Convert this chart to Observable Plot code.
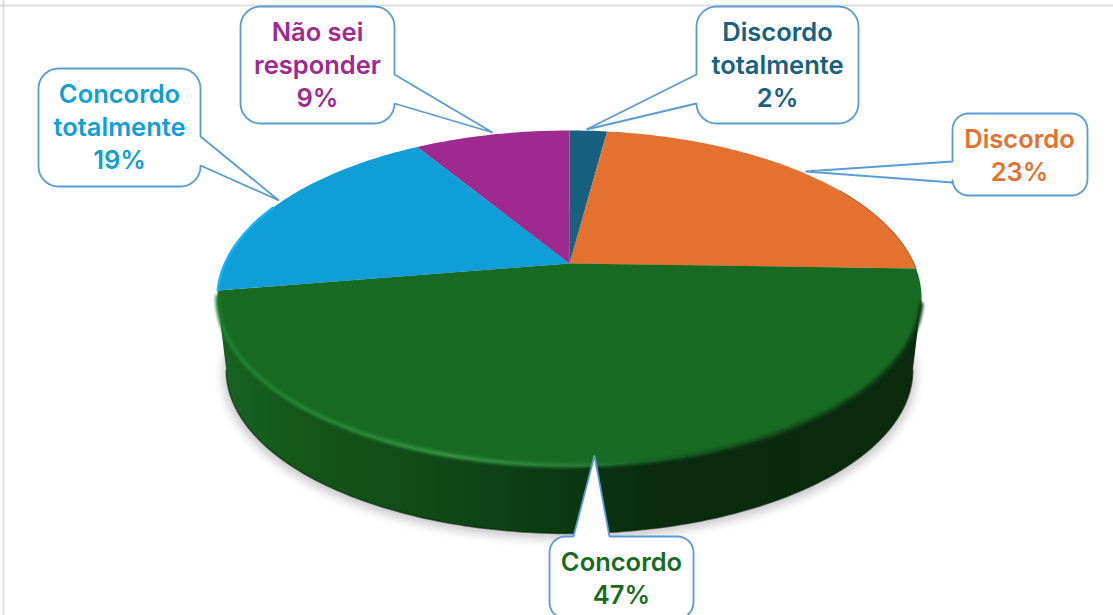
<!DOCTYPE html>
<html>
<head>
<meta charset="utf-8">
<style>html,body{margin:0;padding:0;background:#fff;overflow:hidden}svg{display:block}</style>
<script src="https://cdn.jsdelivr.net/npm/d3@7"></script>
<script src="https://cdn.jsdelivr.net/npm/@observablehq/plot@0.6"></script>
</head>
<body>
<script>
const categories = ["Discordo totalmente", "Discordo", "Concordo", "Concordo totalmente", "Não sei responder"];
const shares = [2.1, 23.4, 46.9, 18.9, 8.7];
const percentLabels = ["2%", "23%", "47%", "19%", "9%"];
const labelLines = ["Discordo\ntotalmente", "Discordo", "Concordo", "Concordo\ntotalmente", "Não sei\nresponder"];
const colors = ["#17607f", "#e57130", "#196b24", "#0f9ed5", "#9e2a8f"];

// Callout layout: box [x1,y1,x2,y2], corner radius, side of tail, tail points clockwise, label centre
const calloutBoxes = [
  [696, 6, 858, 123], [952, 113, 1087, 195], [549, 536, 693, 618], [38, 68, 200, 186], [240, 6, 394, 123]
];
const calloutRadii = [20, 16, 16, 20, 20];
const calloutSides = ["left", "left", "top", "right", "right"];
const calloutTails = [
  [[696,103],[586,129],[696,74]],
  [[952,182],[805,171],[952,161]],
  [[573,536],[594,455],[609,536]],
  [[200,136],[278.5,200],[200,165]],
  [[394,74],[492,132],[394,103]]
];
const labelCentres = [[777,63],[1019,153.5],[621,576.5],[119,125],[317,63]];

// Projection of the tilted disc
const cx = 569, cy = 263, A = 344.5, B = 160.4, p = 0.206;
const rad = d => d * Math.PI / 180;
function rim(deg, s = 1, dy = 0) {
  const u = Math.sin(rad(deg)), v = -Math.cos(rad(deg)), w = 1 - p * v;
  return {x: cx + s * A * u / w, y: cy + dy + s * B * v / w};
}
function arc(a0, a1, s, dy) {
  const n = Math.max(2, Math.ceil(Math.abs(a1 - a0)));
  return d3.range(n + 1).map(i => rim(a0 + (a1 - a0) * i / n, s, dy));
}
const total = d3.sum(shares);
const ends = d3.cumsum(shares).map(c => c / total * 360);
const starts = [0, ...ends.slice(0, -1)];
const slices = categories.flatMap((name, i) =>
  [{x: cx, y: cy}, ...arc(starts[i], ends[i]), {x: cx, y: cy}].map(d => ({...d, name})));

const aL = 90 + Math.asin(p) * 180 / Math.PI, aR = 360 - aL;
const S = 0.975, DY = 73;
const wall = [...arc(aL, aR), ...arc(aR, aL, S, DY)];
const shadow = d3.range(0, 361, 2).map(a => rim(a, 0.985, 77));

function calloutPath(i) {
  const [x1, y1, x2, y2] = calloutBoxes[i], r = calloutRadii[i], side = calloutSides[i];
  const tail = calloutTails[i].map(([x, y]) => ({x, y}));
  const corner = (ccx, ccy, a0) => d3.range(0, 91, 10).map(t => ({
    x: ccx + r * Math.cos(rad(a0 + t)), y: ccy + r * Math.sin(rad(a0 + t))}));
  const pts = [
    ...corner(x1 + r, y1 + r, 180), ...(side === "top" ? tail : []),
    ...corner(x2 - r, y1 + r, 270), ...(side === "right" ? tail : []),
    ...corner(x2 - r, y2 - r, 0),   ...(side === "bottom" ? tail : []),
    ...corner(x1 + r, y2 - r, 90),  ...(side === "left" ? tail : [])
  ];
  pts.push(pts[0]);
  return pts.map(d => ({...d, name: categories[i]}));
}
const callouts = categories.flatMap((_, i) => calloutPath(i));
const labels = categories.map((name, i) => ({
  name, x: labelCentres[i][0], y: labelCentres[i][1], text: labelLines[i] + "\n" + percentLabels[i]
}));

const defs = () => d3.create("svg:defs").html(`
  <linearGradient id="wallGrad" x1="0" x2="1" y1="0" y2="0">
    <stop offset="0" stop-color="#176323"/><stop offset="0.12" stop-color="#145719"/>
    <stop offset="0.3" stop-color="#104a17"/><stop offset="0.5" stop-color="#0b3811"/>
    <stop offset="0.62" stop-color="#0a2b0e"/><stop offset="1" stop-color="#0b2a0e"/>
  </linearGradient>
  <linearGradient id="rimGrad" x1="0" x2="1" y1="0" y2="0">
    <stop offset="0" stop-color="#1f8030"/><stop offset="0.2" stop-color="#2a8a3a"/>
    <stop offset="0.33" stop-color="#379645"/><stop offset="0.52" stop-color="#2a7d38"/>
    <stop offset="0.6" stop-color="#17622a"/><stop offset="0.72" stop-color="#124f1b"/>
    <stop offset="1" stop-color="#0c3310"/>
  </linearGradient>`).node();

const chart = Plot.plot({
  width: 1113,
  height: 615,
  margin: 0,
  x: {domain: [0, 1113], range: [0, 1113], axis: null},
  y: {domain: [0, 615], range: [0, 615], axis: null},
  color: {domain: categories, range: colors},
  style: {background: "#fff", overflow: "hidden"},
  marks: [
    defs,
    Plot.ruleY([5], {stroke: "#dedede", strokeWidth: 2}),
    Plot.ruleX([3], {stroke: "#dedede", strokeWidth: 2}),
    // soft shadow
    Plot.line(shadow, {x: "x", y: "y", fill: "#b4b4b4", stroke: "none", fillOpacity: 0.7, imageFilter: "blur(5px)"}),
    // side wall
    Plot.line(wall, {x: "x", y: "y", fill: "url(#wallGrad)", stroke: "none"}),
    Plot.line(arc(aL, aR, S, DY), {x: "x", y: "y", stroke: "#071f0a", strokeWidth: 1.5, strokeOpacity: 0.6, imageFilter: "blur(0.7px)"}),
    // top face
    Plot.line(slices, {x: "x", y: "y", z: "name", fill: "name", stroke: "none"}),
    // bevel along the rim
    Plot.line(arc(aL + 2, ends[2] - 2), {x: "x", y: "y", stroke: "url(#rimGrad)", strokeWidth: 4, imageFilter: "blur(1.4px)"}),
    Plot.line(arc(60, ends[1]), {x: "x", y: "y", stroke: "#6e3414", strokeWidth: 1, strokeOpacity: 0.65}),
    Plot.line(arc(ends[2], 292), {x: "x", y: "y", stroke: "#14b6f7", strokeWidth: 2.5, imageFilter: "blur(0.6px)"}),
    // callouts
    Plot.line(callouts, {x: "x", y: "y", z: "name", fill: "#fff", stroke: "#5b9bd5", strokeWidth: 1.8, strokeLinejoin: "miter"}),
    Plot.text(labels, {
      x: "x", y: "y", text: "text", fill: "name",
      fontFamily: "Inter, Roboto, sans-serif", fontSize: 25.5, fontWeight: 600, lineHeight: 1.29,
      lineAnchor: "middle", textAnchor: "middle"
    })
  ]
});
document.body.append(chart);
</script>
</body>
</html>
